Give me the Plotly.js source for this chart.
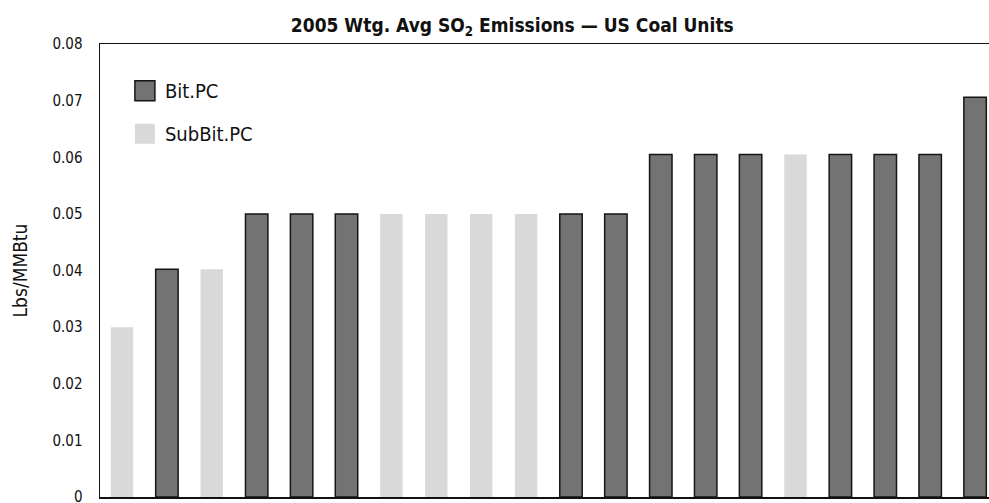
<!DOCTYPE html>
<html>
<head>
<meta charset="utf-8">
<script src="https://cdn.plot.ly/plotly-3.0.1.min.js"></script>
<style>html,body{margin:0;padding:0;background:#fff;}#chart{width:989px;height:503px;}</style>
</head>
<body>
<div id="chart"></div>
<script>
// Categories (coal units, ordered as in the chart; no labels shown)
const units = ["U1","U2","U3","U4","U5","U6","U7","U8","U9","U10",
               "U11","U12","U13","U14","U15","U16","U17","U18","U19","U20"];
// Coal type per unit
const coalType = ["SubBit","Bit","SubBit","Bit","Bit","Bit","SubBit","SubBit","SubBit","SubBit",
                  "Bit","Bit","Bit","Bit","Bit","SubBit","Bit","Bit","Bit","Bit"];
// 2005 weighted average SO2 emissions, Lbs/MMBtu
const so2 = [0.03,0.0402,0.0402,0.05,0.05,0.05,0.05,0.05,0.05,0.05,
             0.05,0.05,0.0605,0.0605,0.0605,0.0605,0.0605,0.0605,0.0605,0.0706];
const yTicks = [0,0.01,0.02,0.03,0.04,0.05,0.06,0.07,0.08];

const bitVals = so2.map((v,i)=>coalType[i]==="Bit"?v:null);
const subVals = so2.map((v,i)=>coalType[i]==="SubBit"?v:null);

const FONT = "'DejaVu Sans Condensed', 'Liberation Sans Narrow', Arial, sans-serif";

const traces = [
  {type:"bar", name:"Bit.PC", x:units, y:bitVals, legendgroup:"a",
   marker:{color:"#737373", line:{color:"#151515", width:1.5}}},
  {type:"bar", name:"SubBit.PC", x:units, y:subVals, legendgroup:"b",
   marker:{color:"#d9d9d9", line:{color:"#d9d9d9", width:0}}}
];

const layout = {
  width:989, height:503,
  margin:{l:100, r:0, t:44, b:6, pad:0},
  paper_bgcolor:"#fff", plot_bgcolor:"#fff",
  font:{family:FONT, color:"#111", size:15},
  barmode:"overlay", bargap:0.5,
  title:{text:"<b>2005 Wtg. Avg SO<sub>2</sub> Emissions — US Coal Units</b>",
         font:{family:FONT, size:19, color:"#111"},
         x:0.518, xanchor:"center", xref:"container",
         y:0.95, yanchor:"middle", yref:"container"},
  xaxis:{type:"category", range:[-0.49,19.31], showticklabels:false, ticks:"",
         showline:true, linecolor:"#111", linewidth:1.5, mirror:true,
         showgrid:false, zeroline:false, fixedrange:true},
  yaxis:{range:[0,0.08], tickvals:yTicks, ticktext:yTicks.map(v=>v===0?"0":v.toFixed(2)),
         ticks:"outside", ticklen:13, tickcolor:"rgba(0,0,0,0)",
         ticklabeloverflow:"allow",
         tickfont:{family:FONT, size:15, color:"#111"},
         showline:true, linecolor:"#111", linewidth:1.5,
         showgrid:false, zeroline:false,
         title:{text:"Lbs/MMBtu", font:{family:FONT, size:19, color:"#111"}, standoff:20}},
  showlegend:true,
  legend:{x:0.028, y:0.94, xanchor:"left", yanchor:"top",
          font:{family:FONT, size:20, color:"#111"},
          bgcolor:"rgba(0,0,0,0)", traceorder:"grouped", tracegroupgap:14,
          itemwidth:30}
};

Plotly.newPlot("chart", traces, layout, {displayModeBar:false, staticPlot:true}).then(gd=>{
  // enlarge legend swatches to match the reference's bigger squares
  gd.querySelectorAll(".legendpoints path").forEach(p=>{
    p.setAttribute("d","M10,10H-10V-10H10Z");
  });
});
</script>
</body>
</html>
